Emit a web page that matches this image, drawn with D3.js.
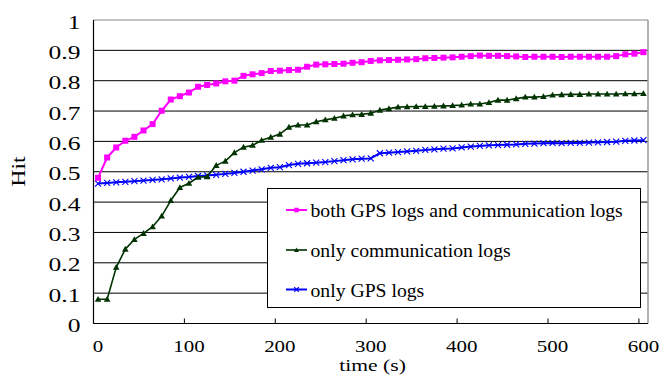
<!DOCTYPE html>
<html>
<head>
<meta charset="utf-8">
<script src="https://cdn.jsdelivr.net/npm/d3@7/dist/d3.min.js"></script>
<style>
  html, body { margin: 0; padding: 0; background: #fff; }
  svg { display: block; }
  text { font-family: "Liberation Serif", "Times New Roman", serif; fill: #000; }
</style>
</head>
<body>
<svg id="chart" width="660" height="387"></svg>
<script>
// Sampling instants (s)
const times = [
  0, 10, 20, 30, 40, 50, 60, 70, 80, 90,
  100, 110, 120, 130, 140, 150, 160, 170, 180, 190,
  200, 210, 220, 230, 240, 250, 260, 270, 280, 290,
  300, 310, 320, 330, 340, 350, 360, 370, 380, 390,
  400, 410, 420, 430, 440, 450, 460, 470, 480, 490,
  500, 510, 520, 530, 540, 550, 560, 570, 580, 590,
  600
];

// Hit ratio using both GPS logs and communication logs
const bothLogs = [
  0.480, 0.547, 0.580, 0.602, 0.615, 0.636, 0.657, 0.701, 0.738, 0.749,
  0.761, 0.780, 0.786, 0.791, 0.798, 0.800, 0.816, 0.821, 0.825, 0.832,
  0.833, 0.835, 0.836, 0.846, 0.853, 0.854, 0.855, 0.856, 0.859, 0.861,
  0.865, 0.867, 0.868, 0.869, 0.870, 0.871, 0.874, 0.875, 0.876, 0.877,
  0.879, 0.881, 0.883, 0.882, 0.882, 0.881, 0.880, 0.878, 0.879, 0.879,
  0.879, 0.878, 0.879, 0.879, 0.879, 0.879, 0.879, 0.881, 0.887, 0.889,
  0.894
];

// Hit ratio using only communication logs
const commLogs = [
  0.080, 0.080, 0.185, 0.245, 0.277, 0.297, 0.319, 0.354, 0.405, 0.448,
  0.462, 0.482, 0.484, 0.521, 0.535, 0.563, 0.581, 0.587, 0.604, 0.614,
  0.624, 0.647, 0.654, 0.654, 0.665, 0.671, 0.676, 0.684, 0.688, 0.689,
  0.693, 0.703, 0.708, 0.713, 0.714, 0.715, 0.715, 0.716, 0.717, 0.718,
  0.720, 0.723, 0.723, 0.728, 0.736, 0.736, 0.741, 0.746, 0.746, 0.748,
  0.753, 0.754, 0.755, 0.755, 0.756, 0.756, 0.756, 0.756, 0.757, 0.757,
  0.758
];

// Hit ratio using only GPS logs
const gpsLogs = [
  0.461, 0.463, 0.465, 0.467, 0.469, 0.471, 0.473, 0.475, 0.478, 0.481,
  0.483, 0.486, 0.488, 0.490, 0.493, 0.496, 0.500, 0.504, 0.508, 0.513,
  0.515, 0.522, 0.526, 0.528, 0.530, 0.532, 0.535, 0.538, 0.541, 0.543,
  0.544, 0.561, 0.563, 0.565, 0.567, 0.569, 0.572, 0.574, 0.576, 0.577,
  0.580, 0.583, 0.585, 0.587, 0.588, 0.589, 0.590, 0.592, 0.593, 0.594,
  0.595, 0.594, 0.595, 0.595, 0.596, 0.597, 0.598, 0.599, 0.602, 0.603,
  0.604
];

const seriesNames = [
  "both GPS logs and communication logs",
  "only communication logs",
  "only GPS logs"
];

const yTickValues = [0, 0.1, 0.2, 0.3, 0.4, 0.5, 0.6, 0.7, 0.8, 0.9, 1];
const yTickLabels = ["0", "0.1", "0.2", "0.3", "0.4", "0.5", "0.6", "0.7", "0.8", "0.9", "1"];
const xTickValues = [0, 100, 200, 300, 400, 500, 600];
const xTickLabels = ["0", "100", "200", "300", "400", "500", "600"];

const svg = d3.select("#chart");
const plot = { left: 93.5, right: 648, top: 20, bottom: 323.5 };

// Category-style x axis: each sample occupies a band, ticks sit on band edges
const x = d3.scaleBand().domain(times).range([plot.left, plot.right]).padding(0);
const bw = x.bandwidth();
const cx = t => x(t) + bw / 2;
const y = d3.scaleLinear().domain([0, 1]).range([plot.bottom, plot.top]);

// Horizontal gridlines
svg.append("g").selectAll("line")
  .data(yTickValues.filter(v => v > 0 && v < 1))
  .join("line")
  .attr("x1", plot.left).attr("x2", plot.right)
  .attr("y1", d => y(d)).attr("y2", d => y(d))
  .attr("stroke", "#000").attr("stroke-width", 1);

// Plot frame: top and right edges in grey
svg.append("line").attr("x1", plot.left).attr("x2", plot.right)
  .attr("y1", y(1)).attr("y2", y(1)).attr("stroke", "#888").attr("stroke-width", 1.2);
svg.append("line").attr("x1", plot.right).attr("x2", plot.right)
  .attr("y1", y(1)).attr("y2", y(0)).attr("stroke", "#999").attr("stroke-width", 1.5);

// Series
const series = [
  { name: seriesNames[0], values: bothLogs, color: "#ff00ff", width: 2, marker: "square" },
  { name: seriesNames[1], values: commLogs, color: "#003300", width: 1.6, marker: "triangle" },
  { name: seriesNames[2], values: gpsLogs, color: "#0000ff", width: 2, marker: "cross" }
];

function markerPath(kind, s) {
  if (kind === "square") return `M${-s/2},${-s/2}h${s}v${s}h${-s}Z`;
  if (kind === "triangle") return `M0,${-s*0.55}L${s*0.55},${s*0.42}L${-s*0.55},${s*0.42}Z`;
  return `M${-s/2},${-s/2}L${s/2},${s/2}M${-s/2},${s/2}L${s/2},${-s/2}`;
}

function markerAttrs(sel, sr, size) {
  sel.attr("d", markerPath(sr.marker, size));
  if (sr.marker === "cross") {
    sel.attr("fill", "none").attr("stroke", sr.color).attr("stroke-width", 1.1);
  } else {
    sel.attr("fill", sr.color).attr("stroke", "none");
  }
}

const line = d3.line().x((d, i) => cx(times[i])).y(d => y(d));

// Draw in reverse so the first series ends up on top
[...series].reverse().forEach(sr => {
  const g = svg.append("g");
  g.append("path")
    .attr("d", line(sr.values))
    .attr("fill", "none")
    .attr("stroke", sr.color)
    .attr("stroke-width", sr.width)
    .attr("stroke-linejoin", "round");
  g.selectAll("path.m")
    .data(sr.values)
    .join("path")
    .attr("class", "m")
    .attr("transform", (d, i) => `translate(${cx(times[i])},${y(d)})`)
    .call(sel => markerAttrs(sel, sr, 6));
});

// Axes lines
svg.append("line").attr("x1", plot.left).attr("x2", plot.left)
  .attr("y1", y(1)).attr("y2", y(0)).attr("stroke", "#000").attr("stroke-width", 1.2);
svg.append("line").attr("x1", plot.left).attr("x2", plot.right)
  .attr("y1", y(0)).attr("y2", y(0)).attr("stroke", "#000").attr("stroke-width", 1.2);

// X ticks (inward) on band edges, labels centred on the sample
svg.append("g").selectAll("line")
  .data(xTickValues)
  .join("line")
  .attr("x1", d => x(d)).attr("x2", d => x(d))
  .attr("y1", y(0)).attr("y2", y(0) - 5)
  .attr("stroke", "#000").attr("stroke-width", 1);

svg.append("g").selectAll("text")
  .data(xTickValues)
  .join("text")
  .attr("transform", d => `translate(${cx(d)},351.5) scale(1.22,1)`)
  .attr("text-anchor", "middle")
  .attr("font-size", "17.2px")
  .text((d, i) => xTickLabels[i]);

// Y tick labels
svg.append("g").selectAll("text")
  .data(yTickValues)
  .join("text")
  .attr("transform", d => `translate(80.5,${y(d) + 8.6}) scale(1.38,1)`)
  .attr("text-anchor", "end")
  .attr("font-size", "18.5px")
  .text((d, i) => yTickLabels[i]);

// Axis titles
svg.append("text")
  .attr("transform", "translate(372.6,371) scale(1.27,1)")
  .attr("text-anchor", "middle")
  .attr("font-size", "17px")
  .text("time (s)");

svg.append("text")
  .attr("transform", "translate(25,171.5) rotate(-90) scale(1.32,1)")
  .attr("text-anchor", "middle")
  .attr("font-size", "18px")
  .text("Hit");

// Legend
const legend = svg.append("g");
legend.append("rect")
  .attr("x", 267.5).attr("y", 188.5).attr("width", 373).attr("height", 119)
  .attr("fill", "#fff").attr("stroke", "#000").attr("stroke-width", 1);

const legendRows = [210, 250, 289.5];
series.forEach((sr, i) => {
  const ly = legendRows[i];
  legend.append("line")
    .attr("x1", 286).attr("x2", 307).attr("y1", ly).attr("y2", ly)
    .attr("stroke", sr.color).attr("stroke-width", sr.width);
  legend.append("path")
    .attr("transform", `translate(296.5,${ly})`)
    .call(sel => markerAttrs(sel, sr, 4.5));
  legend.append("text")
    .attr("x", 310.5).attr("y", ly + 7.2)
    .attr("font-size", "19.7px")
    .text(sr.name);
});
</script>
</body>
</html>
